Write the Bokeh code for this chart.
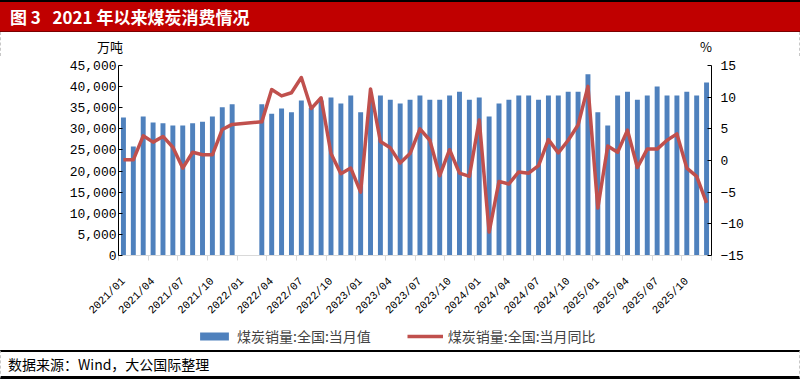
import math
from bokeh.plotting import figure
from bokeh.layouts import column
from bokeh.models import (Range1d, LinearAxis, FixedTicker, NumeralTickFormatter,
                          Legend, LegendItem, ColumnDataSource, Div)
from bokeh.embed import file_html
from bokeh.resources import INLINE

# ---------------- data ----------------
months = [
    "2021/01", "2021/02", "2021/03", "2021/04", "2021/05", "2021/06",
    "2021/07", "2021/08", "2021/09", "2021/10", "2021/11", "2021/12",
    "2022/01", "2022/02", "2022/03", "2022/04", "2022/05", "2022/06",
    "2022/07", "2022/08", "2022/09", "2022/10", "2022/11", "2022/12",
    "2023/01", "2023/02", "2023/03", "2023/04", "2023/05", "2023/06",
    "2023/07", "2023/08", "2023/09", "2023/10", "2023/11", "2023/12",
    "2024/01", "2024/02", "2024/03", "2024/04", "2024/05", "2024/06",
    "2024/07", "2024/08", "2024/09", "2024/10", "2024/11", "2024/12",
    "2025/01", "2025/02", "2025/03", "2025/04", "2025/05", "2025/06",
    "2025/07", "2025/08", "2025/09", "2025/10", "2025/11", "2025/12",
]

# 煤炭销量:全国:当月值 (万吨)
consumption = [
    32700, 25800, 32900, 31500, 31300, 30800,
    30800, 31300, 31700, 32900, 35100, 35800,
    None, None, 35800, 33600, 34800, 33900,
    36700, 35000, 36700, 37400, 36000, 37900,
    33900, 37400, 37900, 36900, 36000, 36900,
    37900, 36900, 36900, 37900, 38800, 36900,
    37400, 32900, 36000, 36900, 37900, 37900,
    36900, 37900, 37900, 38800, 38800, 42900,
    33900, 30800, 37900, 38800, 36900, 37900,
    40000, 37900, 37900, 38800, 37900, 41000,
]

# 煤炭销量:全国:当月同比 (%)
yoy = [
    0.1, 0.1, 3.9, 2.9, 3.8, 2.1,
    -1.2, 1.3, 0.9, 0.9, 4.9, 5.7,
    None, None, 6.1, 11.2, 10.2, 10.7,
    13.1, 8.2, 9.9, 1.1, -2.1, -1.2,
    -5.0, 11.3, 3.0, 2.0, -0.4, 1.1,
    5.0, 3.2, -2.4, 1.7, -2.0, -2.5,
    6.4, -11.3, -3.3, -3.7, -1.8, -2.0,
    -0.8, 3.3, 1.2, 3.2, 5.6, 11.7,
    -7.5, 2.3, 1.3, 4.8, -1.1, 1.8,
    1.8, 3.2, 4.2, -1.2, -2.5, -6.7,
]

tick_labels = [
    "2021/01", "2021/04", "2021/07", "2021/10",
    "2022/01", "2022/04", "2022/07", "2022/10",
    "2023/01", "2023/04", "2023/07", "2023/10",
    "2024/01", "2024/04", "2024/07", "2024/10",
    "2025/01", "2025/04", "2025/07", "2025/10",
]

left_ticks = [0, 5000, 10000, 15000, 20000, 25000, 30000, 35000, 40000, 45000]
right_ticks = [-15, -10, -5, 0, 5, 10, 15]

title_text = "图 3&nbsp;&nbsp;&nbsp;2021 年以来煤炭消费情况"
left_unit = "万吨"
right_unit = "%"
source_text = "数据来源：Wind，大公国际整理"
bar_name = "煤炭销量:全国:当月值"
line_name = "煤炭销量:全国:当月同比"

# ---------------- build ----------------
BAR_COLOR = "#4F81BD"
LINE_COLOR = "#C0504D"
CJK = "Noto Sans CJK SC"
NUM = "Liberation Mono"
EDGE = "1px dashed #C8C8C8"

W = 800
HEAD_H = 56          # title bar (32) + unit row (24)
FIG_H = 268
LEG_H = 26
FOOT_H = 29
FL, FR = 118, 711    # frame left/right (canvas px)
FT, FB = 9, 199      # frame top/bottom (canvas px)

n = len(months)
idx_of = {m: i for i, m in enumerate(months)}

bar_src = ColumnDataSource(dict(
    x=[idx_of[m] for m, v in zip(months, consumption) if v is not None],
    top=[v for v in consumption if v is not None],
))
line_src = ColumnDataSource(dict(
    x=[idx_of[m] for m, v in zip(months, yoy) if v is not None],
    y=[v for v in yoy if v is not None],
))

p = figure(width=W, height=FIG_H, output_backend="svg", toolbar_location=None,
           x_range=Range1d(-0.5, n - 0.5), y_range=Range1d(left_ticks[0], left_ticks[-1]),
           x_axis_type=None, y_axis_type=None,
           min_border_left=FL, min_border_right=W - FR,
           min_border_top=FT, min_border_bottom=FIG_H - FB, margin=0)
p.extra_y_ranges = {"pct": Range1d(right_ticks[0], right_ticks[-1])}
p.outline_line_color = None
p.background_fill_color = "white"
p.border_fill_color = "white"

bar_style = dict(fill_color=BAR_COLOR, line_color=None)
line_style = dict(line_color=LINE_COLOR, line_width=3.5, line_join="round")

p.vbar(x="x", top="top", width=0.5, source=bar_src, **bar_style)
p.line(x="x", y="y", source=line_src, y_range_name="pct", **line_style)

# left axis
la = LinearAxis(ticker=FixedTicker(ticks=left_ticks),
                formatter=NumeralTickFormatter(format="0,0"))
la.axis_line_color = "black"
la.major_tick_in = 4
la.major_tick_out = 0
la.major_tick_line_color = "black"
la.minor_tick_line_color = None
la.major_label_text_font = NUM
la.major_label_text_font_size = "13px"
la.major_label_text_color = "black"
la.major_label_standoff = 2
p.add_layout(la, "left")

# right axis
ra = LinearAxis(y_range_name="pct", ticker=FixedTicker(ticks=right_ticks))
ra.axis_line_color = "black"
ra.major_tick_in = 4
ra.major_tick_out = 0
ra.major_tick_line_color = "black"
ra.minor_tick_line_color = None
ra.major_label_text_font = NUM
ra.major_label_text_font_size = "13px"
ra.major_label_text_color = "black"
ra.major_label_standoff = 9
p.add_layout(ra, "right")

# bottom axis: labels at group starts, tick marks at category boundaries
major = [idx_of[t] for t in tick_labels]
minor = [m - 0.5 for m in major] + [n - 0.5]
ba = LinearAxis(ticker=FixedTicker(ticks=major, minor_ticks=minor))
ba.major_label_overrides = {m: t for m, t in zip(major, tick_labels)}
ba.axis_line_color = "#D9D9D9"
ba.major_tick_line_color = None
ba.major_tick_in = 0
ba.major_tick_out = 0
ba.minor_tick_line_color = "#D9D9D9"
ba.minor_tick_in = 0
ba.minor_tick_out = 5
ba.major_label_orientation = math.pi / 4
ba.major_label_text_font = NUM
ba.major_label_text_font_size = "11px"
ba.major_label_text_color = "black"
ba.major_label_standoff = 19
p.add_layout(ba, "below")

# legend strip: a borderless figure; its frame is aligned with the main frame,
# and its ranges keep the (shared) data out of view so only the legend shows
pl = figure(width=W, height=LEG_H, output_backend="svg", toolbar_location=None,
            x_axis_type=None, y_axis_type=None,
            x_range=Range1d(1e6, 1e6 + 1), y_range=Range1d(1e9, 1e9 + 1),
            min_border=0, margin=0)
pl.extra_y_ranges = {"pct": Range1d(1e6, 1e6 + 1)}
pl.outline_line_color = None
lbar = pl.vbar(x="x", top="top", width=0.5, source=bar_src, **bar_style)
lline = pl.line(x="x", y="y", source=line_src, y_range_name="pct", **line_style)
lg = Legend(items=[LegendItem(label=bar_name, renderers=[lbar]),
                   LegendItem(label=line_name, renderers=[lline])],
            location=(78, 4), orientation="horizontal",
            glyph_width=36, glyph_height=10, label_standoff=5, spacing=36,
            padding=0, margin=0, border_line_color=None,
            background_fill_alpha=0, label_text_font=CJK,
            label_text_font_size="14px", label_height=16)
pl.add_layout(lg, "center")

# header: red title bar + unit labels row
head_html = (
    f'<div style="width:{W}px;height:32px;box-sizing:border-box;'
    'border-top:2px solid #000;border-bottom:1px solid #7a0000;background:#C00000;'
    f'color:#fff;font-family:\'{CJK}\';font-weight:bold;font-size:17px;'
    'line-height:29px;padding-left:10px;white-space:nowrap;">'
    f'{title_text}</div>'
    f'<div style="position:relative;width:{W}px;height:24px;box-sizing:border-box;'
    f'border-left:{EDGE};border-right:{EDGE};font-family:\'{CJK}\';'
    'font-size:13px;color:#000;line-height:16px;">'
    f'<span style="position:absolute;left:96px;top:7px;">{left_unit}</span>'
    f'<span style="position:absolute;left:699px;top:7px;">{right_unit}</span>'
    '</div>'
)
head = Div(text=head_html, width=W, height=HEAD_H, margin=0)

foot_html = (
    f'<div style="width:{W}px;height:{FOOT_H}px;box-sizing:border-box;'
    'border-top:2px solid #000;border-bottom:3px solid #000;'
    f'border-left:{EDGE};border-right:{EDGE};'
    f'font-family:\'{CJK}\';font-size:14px;line-height:24px;color:#000;'
    'padding-left:7px;white-space:nowrap;">'
    f'{source_text}</div>'
)
foot = Div(text=foot_html, width=W, height=FOOT_H, margin=0)

layout = column(head, p, pl, foot, spacing=0, margin=0)
open("out.html", "w").write(file_html(layout, INLINE))
